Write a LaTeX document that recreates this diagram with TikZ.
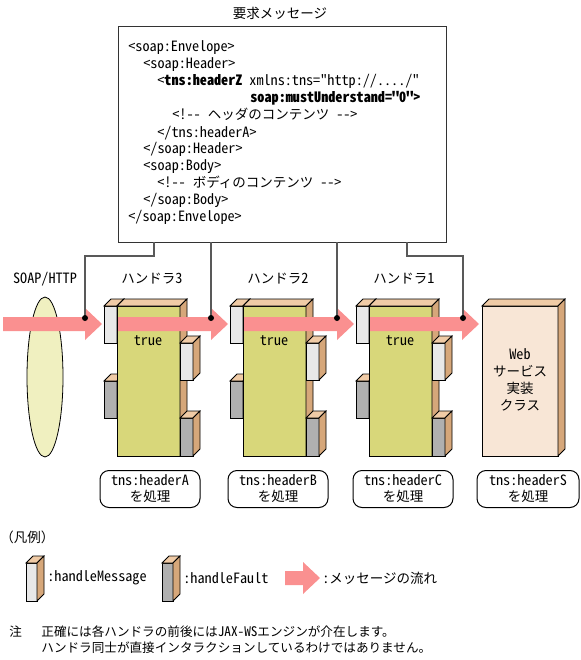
\documentclass[tikz,border=0pt]{standalone}
\usepackage{fontspec}
\setmainfont{Noto Sans CJK JP}
\newfontfamily\codefont{Noto Sans CJK JP}[RawFeature=+hwid, Ligatures=TeXOff, Scale=1.05]

\definecolor{msgpink}{HTML}{FA9090}
\definecolor{handleryellow}{HTML}{D8D77A}
\definecolor{tanside}{HTML}{D6A77A}
\definecolor{tantop}{HTML}{F0CBA6}
\definecolor{msgwhite}{HTML}{E8E8E8}
\definecolor{faultgray}{HTML}{B0B0B0}
\definecolor{soapyellow}{HTML}{F0F0C0}
\definecolor{webpeach}{HTML}{F8E6D6}

% front face (#1,#2)-(#3,#4) filled with #5, top and right faces 7 deep
\newcommand{\blockbox}[5]{%
  \filldraw[fill=#5] (#1,#2) rectangle (#3,#4);
  \filldraw[fill=tantop] (#1,#2) -- ++(7,-7) -- ++({#3-#1},0) -- (#3,#2) -- cycle;
  \filldraw[fill=tanside] (#3,#2) -- ++(7,-7) -- ++(0,{#4-#2}) -- (#3,#4) -- cycle;
}
% message arrow from x=#1 to tip x=#2, centred at y=#3
\newcommand{\msgarrow}[3]{%
  \fill[msgpink] (#1,{#3-7}) -- ({#2-17},{#3-7}) -- ({#2-17},{#3-16}) -- (#2,#3)
    -- ({#2-17},{#3+16}) -- ({#2-17},{#3+7}) -- (#1,{#3+7}) -- cycle;
}

\begin{document}
\begin{tikzpicture}[x=1bp, y=-1bp, line width=0.8bp,
    font=\fontsize{13.5bp}{17bp}\selectfont,
    codeline/.style={anchor=base west, inner sep=0},
    wire/.style={black!65, line width=1.2bp},
    procbox/.style={draw, line width=1bp, rounded corners=9bp, minimum width=100bp,
      minimum height=37bp, inner sep=0, align=center, font=\fontsize{13.5bp}{16bp}\selectfont},
    notetext/.style={anchor=west, inner sep=0, font=\fontsize{12.6bp}{16bp}\selectfont}]
  \useasboundingbox (0,0) rectangle (581,660);

  % request message
  \node (title) at (280,13) {要求メッセージ};
  \node[draw, black!80, line width=1bp, anchor=north west, inner sep=0,
    minimum width=328bp, minimum height=216bp] (msg) at (118,26) {};
  \node[codeline] (ln1) at (128,52) {\codefont<soap:Envelope>};
  \node[codeline] (ln2) at (143,69) {\codefont<soap:Header>};
  \node[codeline] (ln3) at (157,86) {\codefont<\textbf{tns:headerZ}\hspace{7bp}xmlns:tns="http://..../"};
  \node[codeline] (ln4) at (250,103) {\codefont\bfseries soap:mustUnderstand="0">};
  \node[codeline] (ln5) at (172,120) {{\codefont<!--}\hspace{7bp}ヘッダのコンテンツ\hspace{7bp}{\codefont-->}};
  \node[codeline] (ln6) at (157,137) {\codefont</tns:headerA>};
  \node[codeline] (ln7) at (143,153) {\codefont</soap:Header>};
  \node[codeline] (ln8) at (143,170) {\codefont<soap:Body>};
  \node[codeline] (ln9) at (157,187) {{\codefont<!--}\hspace{7bp}ボディのコンテンツ\hspace{7bp}{\codefont-->}};
  \node[codeline] (ln10) at (143,204) {\codefont</soap:Body>};
  \node[codeline] (ln11) at (128,221) {\codefont</soap:Envelope>};

  % SOAP/HTTP
  \node (soap) at (45,279) {\codefont SOAP/HTTP};
  \filldraw[fill=soapyellow] (45,377) ellipse [x radius=18, y radius=80];

  % handlers
  \foreach \n/\ox in {3/0, 2/126, 1/252}{
    \begin{scope}[shift={(\ox,0)}]
      \blockbox{104}{306}{117}{343}{msgwhite}
      \blockbox{104}{381}{117}{418}{faultgray}
      \blockbox{117}{306}{180}{456}{handleryellow}
      \blockbox{180}{343}{193}{380}{msgwhite}
      \blockbox{180}{418}{193}{456}{faultgray}
      \node (hd\n) at (152,279) {ハンドラ{\codefont\n}};
      \node (tr\n) at (148,341) {\codefont true};
    \end{scope}
  }

  % Web service class
  \blockbox{482}{306}{558}{456}{webpeach}
  \node[align=center] (websvc) at (520,380) {{\codefont Web}\\サービス\\実装\\クラス};

  % message flow
  \msgarrow{3}{102}{324}
  \msgarrow{118}{228}{324}
  \msgarrow{244}{354}{324}
  \msgarrow{370}{479}{324}

  % links from the message
  \coordinate (o3) at (154,242);
  \coordinate (o2) at (211,242);
  \coordinate (o1) at (337,242);
  \coordinate (ow) at (407,242);
  \coordinate (d3) at (85,318);
  \coordinate (d2) at (211,318);
  \coordinate (d1) at (337,318);
  \coordinate (dw) at (463,318);
  \draw[wire] (o3) -- ++(0,14) -| (d3);
  \draw[wire] (o2) -- (d2);
  \draw[wire] (o1) -- (d1);
  \draw[wire] (ow) -- ++(0,14) -| (dw);
  \foreach \d in {d3,d2,d1,dw}
    \fill (\d) circle [radius=3];

  % processed headers
  \node[procbox] (p3) at (150,489) {{\codefont tns:headerA}\\を処理};
  \node[procbox] (p2) at (278,489) {{\codefont tns:headerB}\\を処理};
  \node[procbox] (p1) at (403,489) {{\codefont tns:headerC}\\を処理};
  \node[procbox, minimum width=102bp] (ps) at (528,489) {{\codefont tns:headerS}\\を処理};

  % legend
  \node[anchor=west, inner sep=0] (lgd) at (0,537) {（凡例）};
  \blockbox{26}{563}{37}{601}{msgwhite}
  \node[anchor=west, inner sep=0] (lgm) at (47,578) {\codefont :handleMessage};
  \blockbox{162}{563}{173}{601}{faultgray}
  \node[anchor=west, inner sep=0] (lgf) at (183,578) {\codefont :handleFault};
  \msgarrow{285}{320}{578}
  \node[anchor=west, inner sep=0] (lga) at (322,578) {{\codefont :}メッセージの流れ};

  % note
  \node[notetext] (nt) at (9,632) {注};
  \node[notetext] (nt1) at (41,632) {正確には各ハンドラの前後には{\codefont JAX-WS}エンジンが介在します。};
  \node[notetext] (nt2) at (41,648) {ハンドラ同士が直接インタラクションしているわけではありません。};
\end{tikzpicture}
\end{document}
